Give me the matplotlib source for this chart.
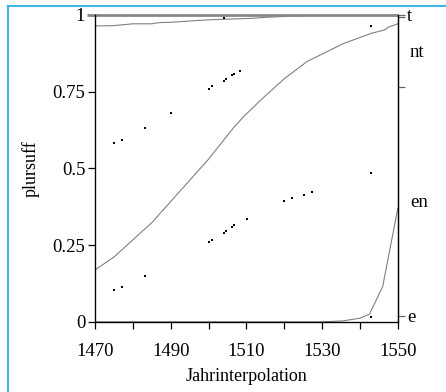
import numpy as np
import matplotlib
matplotlib.use("Agg")
import matplotlib.pyplot as plt
from matplotlib.lines import Line2D

plt.rcParams['font.family'] = ['Liberation Serif', 'DejaVu Serif']

# observed shares (dots)
obs_x = [1475.1, 1477.2, 1483.2, 1490.0, 1500.1, 1500.9, 1504.0, 1504.7, 1506.1,
         1506.8, 1508.2, 1504.1, 1543.0,
         1475.1, 1477.2, 1483.2, 1500.1, 1500.9, 1504.0, 1504.7, 1506.1, 1506.8,
         1510.2, 1520.0, 1522.1, 1525.2, 1527.2, 1543.0, 1543.0]
obs_y = [0.584, 0.594, 0.631, 0.682, 0.760, 0.767, 0.786, 0.792, 0.804,
         0.808, 0.818, 0.989, 0.964,
         0.104, 0.112, 0.148, 0.260, 0.265, 0.291, 0.295, 0.308, 0.314,
         0.334, 0.394, 0.404, 0.414, 0.424, 0.484, 0.015]

# fitted cumulative curves
top_x = [1470, 1475, 1480, 1485, 1487, 1490, 1500, 1511.7, 1515, 1522, 1529.4, 1550]
top_y = [0.964, 0.965, 0.971, 0.971, 0.975, 0.976, 0.984, 0.989, 0.992, 0.996, 1.0, 1.0]

mid_x = [1470, 1475, 1485, 1490, 1500, 1506.5, 1509.3, 1514, 1520, 1526, 1535.5,
         1543, 1546.5, 1547.5, 1550]
mid_y = [0.169, 0.211, 0.323, 0.392, 0.530, 0.631, 0.669, 0.725, 0.792, 0.848, 0.906,
         0.940, 0.951, 0.960, 0.971]

low_x = [1470, 1530, 1535.5, 1540, 1542.5, 1546, 1550]
low_y = [0.0, 0.0, 0.003, 0.012, 0.025, 0.115, 0.37]

# right axis: category boundaries and labels
cat_bounds = [1.0, 0.993, 0.765, 0.02]
cat_names = ['t', 'nt', 'en', 'e']
cat_pos = [0.996, 0.879, 0.39, 0.015]

fig = plt.figure(figsize=(4.46, 3.92), dpi=100)
ax = fig.add_axes([0.213, 0.179, 0.679, 0.783])

ax.plot(top_x, top_y, color='#808080', lw=0.8)
ax.plot(mid_x, mid_y, color='#808080', lw=0.8)
ax.plot(low_x, low_y, color='#808080', lw=0.8)
ax.plot([1468, 1550], [1, 1], color='#888888', lw=2, clip_on=False, solid_capstyle='butt')
ax.scatter(obs_x, obs_y, marker='s', s=4, color='black', lw=0, zorder=3)

ax.set_xlim(1470, 1550)
ax.set_ylim(0, 1)
ax.set_xticks(np.arange(1470, 1551, 10))
ax.set_xticklabels([str(v) if (v - 1470) % 20 == 0 else '' for v in range(1470, 1551, 10)])
ax.set_yticks([0, 0.25, 0.5, 0.75, 1])
ax.set_yticklabels(['0', '0.25', '0.5', '0.75', '1'])
ax.tick_params(axis='x', direction='out', length=5, width=0.9, pad=10, labelsize=13.5)
ax.tick_params(axis='y', direction='out', length=5, width=0.9, pad=2, labelsize=13.5)
ax.spines['top'].set_visible(False)
for s in ['left', 'bottom', 'right']:
    ax.spines[s].set_linewidth(0.9)

ax2 = ax.twinx()
ax2.set_ylim(0, 1)
ax2.set_yticks(cat_bounds)
ax2.set_yticklabels([''] * len(cat_bounds))
ax2.tick_params(axis='y', direction='out', length=5, width=0.9, color='#666666')
ax2.spines['top'].set_visible(False)
ax2.spines['right'].set_linewidth(0.9)
for name, pos in zip(cat_names, cat_pos):
    xoff = 1.03 if name in ('t', 'e') else 1.04
    ax2.text(xoff, pos, name, transform=ax2.get_yaxis_transform(), va='center',
             ha='left', fontsize=13.5)

ax.set_xlabel('Jahrinterpolation', fontsize=13, labelpad=6)
ax.set_ylabel('plursuff', fontsize=13, labelpad=9)

blue = '#3fb4e6'
fig.add_artist(Line2D([0.018, 0.018], [0, 0.985], color=blue, lw=1.5))
fig.add_artist(Line2D([0.018, 1.0], [0.985, 0.985], color=blue, lw=1.5))

fig.savefig('out.png', dpi=100)
